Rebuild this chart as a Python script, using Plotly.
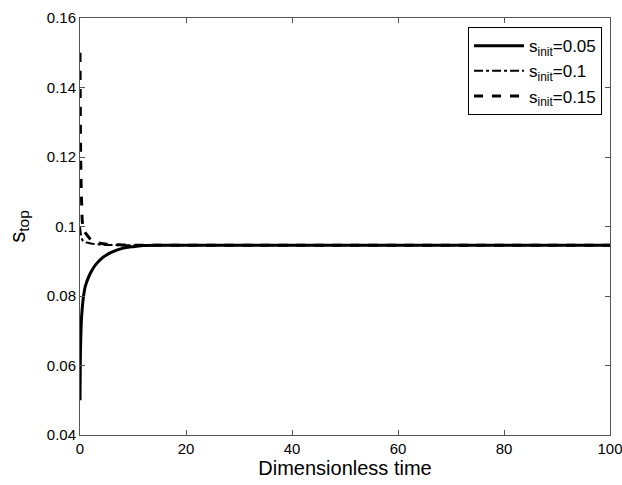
import plotly.graph_objects as go

# time samples (dimensionless)
t = [0, 0.05, 0.1, 0.2, 0.3, 0.5, 0.75, 1, 1.5, 2, 2.5, 3, 4, 5, 6, 8, 10, 12, 15, 20, 30, 50, 75, 100]

s_init_005 = [0.050, 0.060, 0.065, 0.0705, 0.0740, 0.0778, 0.0808, 0.0828, 0.0850, 0.0867, 0.0880, 0.0891,
              0.0907, 0.0918, 0.0926, 0.0937, 0.0942, 0.0945, 0.0946, 0.0946, 0.0946, 0.0946, 0.0946, 0.0946]
s_init_010 = [0.1000, 0.0992, 0.0985, 0.0975, 0.0968, 0.0960, 0.0957, 0.0955, 0.0953, 0.0951, 0.0950, 0.0949,
              0.0948, 0.0947, 0.0947, 0.0946, 0.0946, 0.0946, 0.0946, 0.0946, 0.0946, 0.0946, 0.0946, 0.0946]
s_init_015 = [0.150, 0.135, 0.124, 0.113, 0.107, 0.1005, 0.0990, 0.0982, 0.0972, 0.0963, 0.0958, 0.0955,
              0.0951, 0.0949, 0.0948, 0.0947, 0.0946, 0.0946, 0.0946, 0.0946, 0.0946, 0.0946, 0.0946, 0.0946]

x_ticks = [0, 20, 40, 60, 80, 100]
y_ticks = [0.04, 0.06, 0.08, 0.10, 0.12, 0.14, 0.16]
y_tick_labels = ["0.04", "0.06", "0.08", "0.1", "0.12", "0.14", "0.16"]

font = "Liberation Sans, Arial, sans-serif"

fig = go.Figure()
fig.add_trace(go.Scatter(x=t, y=s_init_005, mode="lines", name="s<sub>init</sub>=0.05",
                         line=dict(color="black", width=3, dash="solid", shape="spline", smoothing=1)))
fig.add_trace(go.Scatter(x=t, y=s_init_010, mode="lines", name="s<sub>init</sub>=0.1",
                         line=dict(color="black", width=2, dash="dashdot", shape="spline", smoothing=1)))
fig.add_trace(go.Scatter(x=t, y=s_init_015, mode="lines", name="s<sub>init</sub>=0.15",
                         line=dict(color="black", width=3, dash="dash", shape="spline", smoothing=1)))

axis_common = dict(showline=True, linecolor="#555", linewidth=1, mirror="ticks",
                   ticks="inside", ticklen=5, tickcolor="#555", showgrid=False, zeroline=False,
                   ticklabeloverflow="allow",
                   tickfont=dict(family=font, size=15, color="black"))

fig.update_layout(
    width=622, height=485,
    margin=dict(l=80, r=12, t=18, b=50),
    paper_bgcolor="white", plot_bgcolor="white",
    font=dict(family=font, color="black"),
    xaxis=dict(range=[0, 100], tickvals=x_ticks, automargin="bottom",
               title=dict(text="Dimensionless time", font=dict(family=font, size=20), standoff=0),
               **axis_common),
    yaxis=dict(range=[0.04, 0.16], tickvals=y_ticks, ticktext=y_tick_labels, automargin=False,
               title=dict(text="s<sub>top</sub>", font=dict(family=font, size=22)),
               **axis_common),
    legend=dict(x=0.985, y=0.978, xanchor="right", yanchor="top",
                bordercolor="black", borderwidth=1, bgcolor="white", itemwidth=50,
                font=dict(family=font, size=17), tracegroupgap=0),
    showlegend=True,
)

fig.write_html("out.html")
